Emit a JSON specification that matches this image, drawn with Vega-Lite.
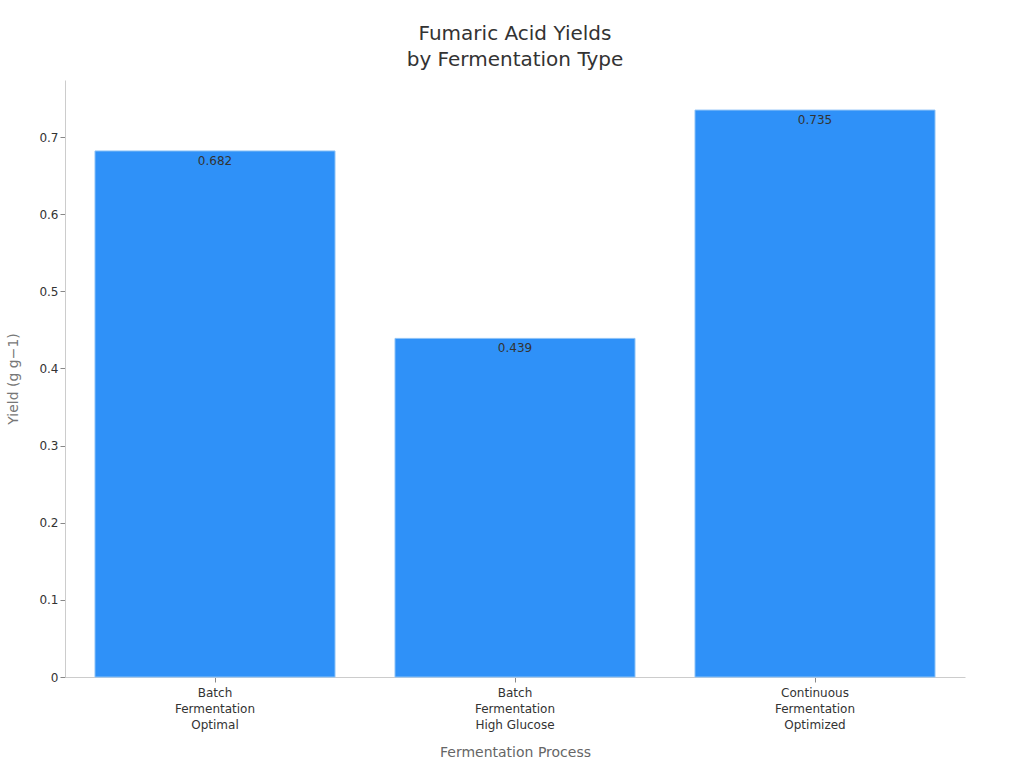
{
  "$schema": "https://vega.github.io/schema/vega-lite/v6.json",
  "autosize": {"type": "none"},
  "padding": {"left": 65, "top": 80, "right": 59, "bottom": 91},
  "width": 900,
  "height": 597,
  "background": "white",
  "config": {
    "font": "DejaVu Sans",
    "view": {"stroke": null}
  },
  "title": {
    "text": ["Fumaric Acid Yields", "by Fermentation Type"],
    "fontSize": 20,
    "fontWeight": "normal",
    "color": "#333333",
    "lineHeight": 26,
    "offset": 10
  },
  "data": {
    "values": [
      {"process": "Batch Fermentation Optimal", "yield": 0.682},
      {"process": "Batch Fermentation High Glucose", "yield": 0.439},
      {"process": "Continuous Fermentation Optimized", "yield": 0.735}
    ]
  },
  "encoding": {
    "x": {
      "field": "process",
      "type": "nominal",
      "sort": null,
      "scale": {"paddingInner": 0.2, "paddingOuter": 0.1},
      "axis": {
        "title": "Fermentation Process",
        "titleColor": "#666666",
        "titleFontSize": 14,
        "titleFontWeight": "normal",
        "titlePadding": 15,
        "labelAngle": 0,
        "labelColor": "#333333",
        "labelFontSize": 12,
        "labelLineHeight": 16,
        "labelPadding": 5,
        "labelExpr": "datum.label == 'Batch Fermentation High Glucose' ? ['Batch', 'Fermentation', 'High Glucose'] : split(datum.label, ' ')",
        "domainColor": "#cccccc",
        "tickColor": "#888888",
        "tickSize": 5
      }
    },
    "y": {
      "field": "yield",
      "type": "quantitative",
      "scale": {"domain": [0, 0.774], "nice": false},
      "axis": {
        "title": "Yield (g g−1)",
        "titleColor": "#777777",
        "titleFontSize": 14,
        "titleFontWeight": "normal",
        "titlePadding": 18,
        "values": [0, 0.1, 0.2, 0.3, 0.4, 0.5, 0.6, 0.7],
        "format": ".1~f",
        "grid": false,
        "labelColor": "#333333",
        "labelFontSize": 12,
        "domainColor": "#cccccc",
        "tickColor": "#888888",
        "tickSize": 5
      }
    }
  },
  "layer": [
    {
      "mark": {"type": "bar", "color": "#2f91f8", "stroke": "#8cc2f7", "strokeWidth": 1}
    },
    {
      "mark": {"type": "text", "baseline": "top", "dy": 5, "fontSize": 12, "color": "#333333"},
      "encoding": {
        "text": {"field": "yield", "type": "quantitative", "format": ".3f"}
      }
    }
  ]
}
